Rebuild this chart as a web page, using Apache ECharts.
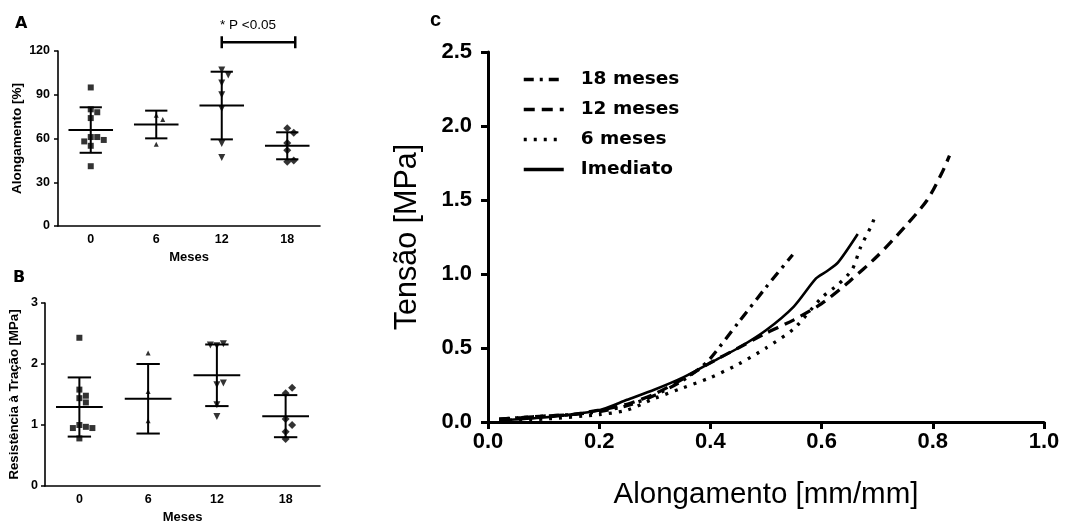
<!DOCTYPE html>
<html><head><meta charset="utf-8">
<script src="https://cdn.jsdelivr.net/npm/echarts@6/dist/echarts.min.js"></script>
<style>html,body{margin:0;padding:0;background:#fff}#c{width:1068px;height:527px}</style>
</head><body><div id="c"></div>
<script>
// ---------- DATA ----------
const months = ['0', '6', '12', '18'];
// Panel A: Alongamento [%]
const alongM0  = [95, 80, 78, 74, 61, 61, 58, 59, 55, 41];
const alongM6  = [76, 73, 56];
const alongM12 = [107, 103.5, 98, 90, 80.5, 56.5, 47];
const alongM18 = [67, 64, 57, 52, 44, 45];
const alongMean = [65.8, 69.6, 82.6, 55.0];
const alongSD   = [15.6, 9.5, 23.2, 9.25];
const yTicksA = [0, 30, 60, 90, 120];
const sigLabel = '* P <0.05';
const sigPair = ['12', '18'];
const sigLevel = 126;
// Panel B: Resistência à Tração [MPa]
const resM0  = [2.43, 1.58, 1.48, 1.44, 1.37, 1.00, 0.97, 0.95, 0.95, 0.78];
const resM6  = [2.18, 1.55, 1.07];
const resM12 = [2.30, 2.33, 2.31, 1.66, 1.69, 1.33, 1.14];
const resM18 = [1.52, 1.61, 1.10, 1.00, 0.89, 0.77];
const resMean = [1.295, 1.43, 1.815, 1.145];
const resSD   = [0.485, 0.57, 0.505, 0.345];
const yTicksB = [0, 1, 2, 3];
// Panel C: Tensão vs Alongamento
const curve18 = [[0.02,0.02],[0.06,0.03],[0.1,0.04],[0.15,0.05],[0.2,0.07],[0.25,0.11],[0.3,0.18],[0.35,0.28],[0.38,0.36],[0.4,0.43],[0.45,0.67],[0.5,0.91],[0.548,1.13]];
const curve12 = [[0.02,0.02],[0.06,0.03],[0.1,0.04],[0.15,0.05],[0.2,0.08],[0.25,0.12],[0.3,0.19],[0.35,0.29],[0.4,0.4],[0.45,0.5],[0.5,0.6],[0.55,0.69],[0.6,0.8],[0.65,0.95],[0.7,1.12],[0.75,1.32],[0.79,1.5],[0.816,1.68],[0.83,1.8]];
const curve6  = [[0.02,0.01],[0.1,0.02],[0.2,0.05],[0.25,0.08],[0.3,0.16],[0.35,0.23],[0.4,0.3],[0.45,0.39],[0.5,0.5],[0.55,0.63],[0.6,0.84],[0.63,0.93],[0.655,1.03],[0.67,1.18],[0.69,1.33],[0.697,1.40]];
const curveIm = [[0.02,0.01],[0.1,0.03],[0.2,0.08],[0.25,0.15],[0.3,0.22],[0.35,0.3],[0.4,0.4],[0.45,0.5],[0.5,0.62],[0.55,0.78],[0.59,0.97],[0.61,1.02],[0.63,1.08],[0.665,1.27]];
const curveNames = ['18 meses', '12 meses', '6 meses', 'Imediato'];
const xTicksC = [0, 0.2, 0.4, 0.6, 0.8, 1.0];
const yTicksC = [0, 0.5, 1.0, 1.5, 2.0, 2.5];

// ---------- LAYOUT HELPERS ----------
const FONT = "'Liberation Sans', Arial, sans-serif";
const gA = {left: 58, top: 51, width: 262, height: 175};
const gB = {left: 45, top: 303, width: 275, height: 183};
const gC = {left: 488, top: 52, width: 556, height: 370};

// simple deterministic beeswarm (pixel offsets) to avoid overlapping markers
function swarm(vals, pxPerUnit, size) {
  const placed = [];
  return vals.map(v => {
    const y = v * pxPerUnit;
    const cand = [0];
    for (let i = 1; i < 6; i++) cand.push(i * size, -i * size);
    for (const dx of cand) {
      if (placed.every(p => Math.abs(p.x - dx) >= size || Math.abs(p.y - y) >= size)) {
        placed.push({x: dx, y}); return dx;
      }
    }
    return 0;
  });
}
function dots(vals, idx, pxPerUnit, size) {
  const off = swarm(vals, pxPerUnit, size);
  return vals.map((v, k) => ({value: [idx, v], symbolOffset: [off[k], 0]}));
}
const invTri = 'path://M0,0 L10,0 L5,9 Z';
const symbols = ['rect', 'triangle', invTri, 'diamond'];
const sizes = [6, 5, 7, 8];

function catAxes(grid, yt, name, nameGap, nameSize, labMarginY) {
  return {
    x: {type: 'category', gridIndex: grid, data: months, boundaryGap: true,
      axisLine: {lineStyle: {color: '#000', width: 1.6}},
      axisTick: {alignWithLabel: true, length: 4, lineStyle: {width: 1.5, color: '#000'}},
      axisLabel: {color: '#000', fontSize: 12.5, fontWeight: 'bold', fontFamily: FONT, margin: 7},
      name: 'Meses', nameLocation: 'middle', nameGap: 25,
      nameTextStyle: {color: '#000', fontSize: 13, fontWeight: 'bold', fontFamily: FONT}},
    y: {type: 'value', gridIndex: grid, min: yt[0], max: yt[yt.length - 1], interval: yt[1] - yt[0],
      axisLine: {show: true, lineStyle: {color: '#000', width: 1.6}},
      axisTick: {show: true, length: 4, lineStyle: {width: 1.5, color: '#000'}},
      splitLine: {show: false},
      axisLabel: {color: '#000', fontSize: 12.5, fontWeight: 'bold', fontFamily: FONT, margin: labMarginY},
      name: name, nameLocation: 'middle', nameGap: nameGap,
      nameTextStyle: {color: '#000', fontSize: nameSize, fontWeight: 'bold', fontFamily: FONT}}
  };
}
const axA = catAxes(0, yTicksA, 'Alongamento [%]', 34, 13.5, 8);
const axB = catAxes(1, yTicksB, 'Resistência à Tração [MPa]', 24, 13.2, 7);

function errSeries(xi, yi, means, sds) {
  return {
    type: 'custom', xAxisIndex: xi, yAxisIndex: yi, z: 3, silent: true,
    encode: {x: 0, y: 1},
    data: means.map((m, i) => [i, m, sds[i]]),
    renderItem(params, api) {
      const i = api.value(0), m = api.value(1), s = api.value(2);
      const c = api.coord([i, m]);
      const hi = api.coord([i, m + s]);
      const lo = api.coord([i, m - s]);
      const bw = api.size([1, 0])[0];
      const mw = bw * 0.34, cw = bw * 0.17;
      const st = {stroke: '#000', lineWidth: 2};
      return {type: 'group', children: [
        {type: 'line', shape: {x1: c[0] - mw, y1: c[1], x2: c[0] + mw, y2: c[1]}, style: st},
        {type: 'line', shape: {x1: c[0], y1: hi[1], x2: c[0], y2: lo[1]}, style: st},
        {type: 'line', shape: {x1: c[0] - cw, y1: hi[1], x2: c[0] + cw, y2: hi[1]}, style: st},
        {type: 'line', shape: {x1: c[0] - cw, y1: lo[1], x2: c[0] + cw, y2: lo[1]}, style: st}
      ]};
    }
  };
}

const pxA = gA.height / 120, pxB = gB.height / 3;
const groupsA = [alongM0, alongM6, alongM12, alongM18];
const groupsB = [resM0, resM6, resM12, resM18];
const scatterA = groupsA.map((g, i) => ({
  type: 'scatter', xAxisIndex: 0, yAxisIndex: 0, symbol: symbols[i], symbolSize: sizes[i],
  itemStyle: {color: '#000'}, z: 4, data: dots(g, i, pxA, 6.5)
}));
const scatterB = groupsB.map((g, i) => ({
  type: 'scatter', xAxisIndex: 1, yAxisIndex: 1, symbol: symbols[i], symbolSize: sizes[i],
  itemStyle: {color: '#000'}, z: 4, data: dots(g, i, pxB, 6.5)
}));

const sigSeries = {
  type: 'custom', xAxisIndex: 0, yAxisIndex: 0, silent: true, clip: false,
  encode: {x: 0, y: 1},
  data: [[months.indexOf(sigPair[0]), sigLevel, months.indexOf(sigPair[1])]],
  renderItem(params, api) {
    const a = api.coord([api.value(0), api.value(1)]);
    const b = api.coord([api.value(2), api.value(1)]);
    const x2 = b[0] + 8;
    const st = {stroke: '#000', lineWidth: 2.5};
    return {type: 'group', children: [
      {type: 'line', shape: {x1: a[0], y1: a[1], x2: x2, y2: a[1]}, style: st},
      {type: 'line', shape: {x1: a[0], y1: a[1] - 6, x2: a[0], y2: a[1] + 6}, style: st},
      {type: 'line', shape: {x1: x2, y1: a[1] - 6, x2: x2, y2: a[1] + 6}, style: st}
    ]};
  }
};

const lineStyles = [
  {type: [10, 6, 3, 6], width: 3.3, color: '#000'},
  {type: [11, 7], width: 3.3, color: '#000'},
  {type: [3, 7], width: 3.3, color: '#000'},
  {type: 'solid', width: 2.6, color: '#000'}
];
const curves = [curve18, curve12, curve6, curveIm];
const lineSeries = curves.map((d, i) => ({
  type: 'line', name: curveNames[i], xAxisIndex: 2, yAxisIndex: 2,
  symbol: 'none', showSymbol: false, smooth: 0.25, silent: true,
  lineStyle: lineStyles[i], itemStyle: {color: '#000'}, data: d
}));

const chart = echarts.init(document.getElementById('c'), null, {renderer: 'canvas'});
chart.setOption({
  animation: false,
  backgroundColor: '#fff',
  title: [
    {text: 'A', left: 15, top: 16, padding: 0, textStyle: {fontSize: 16, fontWeight: 900, fontFamily: "'DejaVu Sans', sans-serif", color: '#000'}},
    {text: 'B', left: 13, top: 270, padding: 0, textStyle: {fontSize: 16, fontWeight: 900, fontFamily: "'DejaVu Sans', sans-serif", color: '#000'}},
    {text: 'c', left: 430, top: 10, padding: 0, textStyle: {fontSize: 20, fontWeight: 'bold', fontFamily: FONT, color: '#000'}},
    {text: sigLabel, left: 220, top: 18, padding: 0, textStyle: {fontSize: 13.5, fontWeight: 'normal', fontFamily: FONT, color: '#000'}}
  ],
  legend: {
    orient: 'vertical', left: 517, top: 65, itemWidth: 40, itemHeight: 12, itemGap: 11,
    selectedMode: false, data: curveNames,
    itemStyle: {opacity: 0},
    lineStyle: {width: 3.5},
    textStyle: {fontSize: 18.5, fontWeight: 'bold', fontFamily: "'DejaVu Sans', sans-serif", color: '#000', padding: [0, 0, 0, 12]}
  },
  grid: [
    Object.assign({containLabel: false}, gA),
    Object.assign({containLabel: false}, gB),
    Object.assign({containLabel: false}, gC)
  ],
  xAxis: [axA.x, axB.x, {
    type: 'value', gridIndex: 2, min: xTicksC[0], max: xTicksC[xTicksC.length - 1], interval: xTicksC[1] - xTicksC[0],
    axisLine: {lineStyle: {color: '#000', width: 3}},
    axisTick: {show: true, length: 7, lineStyle: {width: 3, color: '#000'}},
    splitLine: {show: false},
    axisLabel: {color: '#000', fontSize: 22, fontWeight: 'bold', fontFamily: FONT, margin: 9, formatter: v => v.toFixed(1)},
    name: 'Alongamento [mm/mm]', nameLocation: 'middle', nameGap: 58,
    nameTextStyle: {color: '#000', fontSize: 29.5, fontFamily: FONT}
  }],
  yAxis: [axA.y, axB.y, {
    type: 'value', gridIndex: 2, min: yTicksC[0], max: yTicksC[yTicksC.length - 1], interval: yTicksC[1] - yTicksC[0],
    axisLine: {show: true, lineStyle: {color: '#000', width: 3}},
    axisTick: {show: true, length: 7, lineStyle: {width: 3, color: '#000'}},
    splitLine: {show: false},
    axisLabel: {color: '#000', fontSize: 22, fontWeight: 'bold', fontFamily: FONT, margin: 16, formatter: v => v.toFixed(1)},
    name: 'Tensão [MPa]', nameLocation: 'middle', nameGap: 65,
    nameTextStyle: {color: '#000', fontSize: 30.5, fontFamily: FONT}
  }],
  series: [
    errSeries(0, 0, alongMean, alongSD), ...scatterA, sigSeries,
    errSeries(1, 1, resMean, resSD), ...scatterB,
    ...lineSeries
  ]
});
</script>
</body></html>
